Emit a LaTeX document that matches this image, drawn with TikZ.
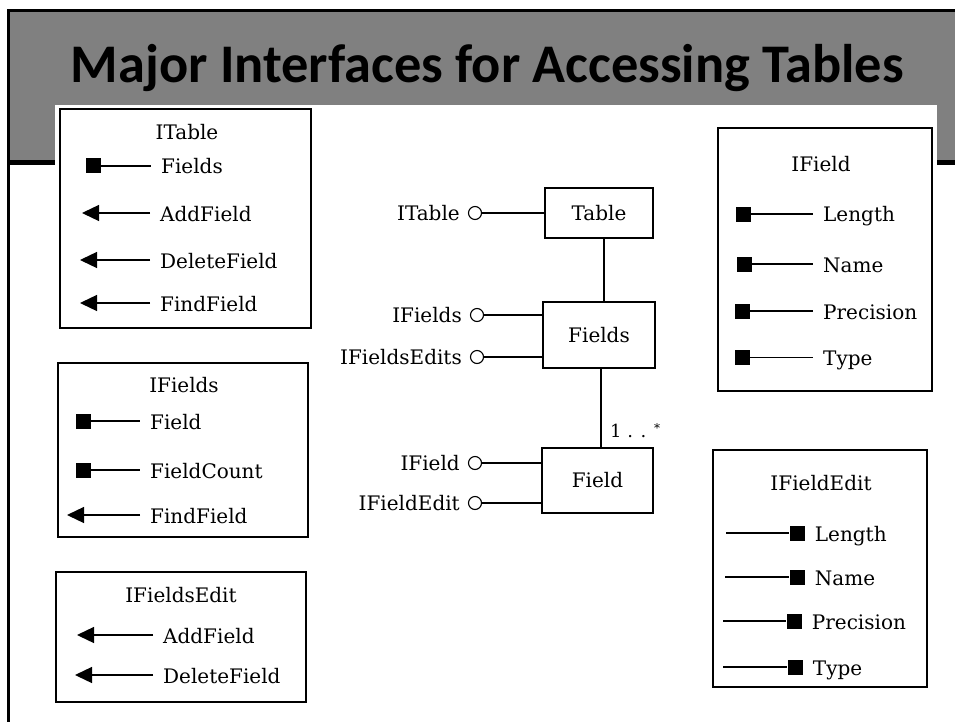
\documentclass[tikz,border=0pt]{standalone}
\usepackage{fontspec}
\newfontfamily\headfont{Carlito}
\newfontfamily\bookfont{DejaVu Serif}
\usetikzlibrary{arrows.meta,positioning}
\definecolor{bandgray}{RGB}{128,128,128}

\tikzset{
  panel/.style={draw, line width=1.3pt, inner sep=0pt},
  ptitle/.style={anchor=base, font=\bookfont\fontsize{20}{22}\selectfont, inner sep=0pt},
  memb/.style={anchor=west, font=\bookfont\fontsize{20}{22}\selectfont, inner xsep=10pt, inner ysep=0pt, text height=16pt, text depth=0pt},
  prop/.style={fill=black, minimum size=15pt, inner sep=0pt},
  meth/.style={-{Triangle[length=17pt,width=16pt]}, line width=1.3pt},
  wire/.style={line width=1.2pt},
  cls/.style={draw, line width=1.3pt, font=\bookfont\fontsize{20}{22}\selectfont},
  lolly/.style={draw, circle, line width=1.1pt, minimum size=13pt, inner sep=0pt},
  lbl/.style={font=\bookfont\fontsize{20}{22}\selectfont, inner xsep=8pt, inner ysep=0pt}
}

\begin{document}
\begin{tikzpicture}[x=1pt,y=-1pt]
  \useasboundingbox (0,0) rectangle (955,722);
  % slide frame and title band
  \fill[bandgray] (10,12) rectangle (955,160);
  \fill[black] (10,160) rectangle (955,165);
  \fill[white] (55,105) rectangle (937,722);
  \draw[line width=3pt] (8.5,722) -- (8.5,10.5) -- (955,10.5);
  \node[anchor=base, font=\headfont\bfseries\fontsize{54.4}{58}\selectfont] (head) at (487.5,83) {Major Interfaces for Accessing Tables};

  % ITable
  \node[panel, minimum width=251pt, minimum height=219pt] (itablebox) at (185.5,218.5) {};
  \node[ptitle] (itablettl) at (187,140) {ITable};
  \node[prop] (tfieldsq) at (93,166) {};
  \node[memb] (tfields) at (151,166) {Fields};
  \draw[wire] (tfieldsq) -- (tfields);
  \coordinate (taddtip) at (82,213);
  \node[memb] (tadd) at (150,213) {AddField};
  \draw[meth] (tadd) -- (taddtip);
  \coordinate (tdeltip) at (80,260);
  \node[memb] (tdel) at (150,260) {DeleteField};
  \draw[meth] (tdel) -- (tdeltip);
  \coordinate (tfindtip) at (80,303);
  \node[memb] (tfind) at (150,303) {FindField};
  \draw[meth] (tfind) -- (tfindtip);

  % IFields
  \node[panel, minimum width=250pt, minimum height=174pt] (ifieldsbox) at (183,450) {};
  \node[ptitle] (ifieldsttl) at (184,392) {IFields};
  \node[prop] (sfieldsq) at (83,421) {};
  \node[memb] (sfield) at (140,421) {Field};
  \draw[wire] (sfieldsq) -- (sfield);
  \node[prop] (scountsq) at (83,470) {};
  \node[memb] (scount) at (140,470) {FieldCount};
  \draw[wire] (scountsq) -- (scount);
  \coordinate (sfindtip) at (67,515);
  \node[memb] (sfind) at (140,515) {FindField};
  \draw[meth] (sfind) -- (sfindtip);

  % IFieldsEdit
  \node[panel, minimum width=250pt, minimum height=130pt] (ifieldseditbox) at (181,637) {};
  \node[ptitle] (ifieldseditttl) at (181,602) {IFieldsEdit};
  \coordinate (eaddtip) at (77,635);
  \node[memb] (eadd) at (153,635) {AddField};
  \draw[meth] (eadd) -- (eaddtip);
  \coordinate (edeltip) at (75,675);
  \node[memb] (edel) at (153,675) {DeleteField};
  \draw[meth] (edel) -- (edeltip);

  % classes
  \node[cls, minimum width=108pt, minimum height=50pt] (table) at (599,213) {Table};
  \node[cls, minimum width=112pt, minimum height=66pt] (fieldsc) at (599,335) {Fields};
  \node[cls, minimum width=111pt, minimum height=65pt] (fieldc) at (597.5,480.5) {Field};
  \draw[wire] ([xshift=5pt]table.south) -- ([xshift=5pt]table.south |- fieldsc.north);
  \draw[wire] ([xshift=2pt]fieldsc.south) -- ([xshift=2pt]fieldsc.south |- fieldc.north);
  \node[anchor=base west, font=\bookfont\fontsize{18}{20}\selectfont, inner sep=0pt] (mult) at (610,437) {1 . . \raisebox{5pt}{\fontsize{12}{12}\selectfont *}};

  \node[lolly] (itablec) at (475,213) {};
  \node[lbl, left=0pt of itablec] (itablel) {ITable};
  \draw[wire] (itablec) -- (table);
  \node[lolly] (ifieldsc) at (477,315) {};
  \node[lbl, left=0pt of ifieldsc] (ifieldsl) {IFields};
  \draw[wire] (ifieldsc) -- (ifieldsc -| fieldsc.west);
  \node[lolly] (ifieldseditsc) at (477,357) {};
  \node[lbl, left=0pt of ifieldseditsc] (ifieldseditsl) {IFieldsEdits};
  \draw[wire] (ifieldseditsc) -- (ifieldseditsc -| fieldsc.west);
  \node[lolly] (ifieldc) at (475,463) {};
  \node[lbl, left=0pt of ifieldc] (ifieldl) {IField};
  \draw[wire] (ifieldc) -- (ifieldc -| fieldc.west);
  \node[lolly] (ifieldeditc) at (475,503) {};
  \node[lbl, left=0pt of ifieldeditc] (ifieldeditl) {IFieldEdit};
  \draw[wire] (ifieldeditc) -- (ifieldeditc -| fieldc.west);

  % IField
  \node[panel, minimum width=214pt, minimum height=263pt] (ifieldbox) at (825,259.5) {};
  \node[ptitle] (ifieldttl) at (821,172) {IField};
  \node[prop] (flensq) at (743,214) {};
  \node[memb] (flen) at (813,214) {Length};
  \draw[wire] (flensq) -- (flen);
  \node[prop] (fnamesq) at (744,264) {};
  \node[memb] (fname) at (813,264) {Name};
  \draw[wire] (fnamesq) -- (fname);
  \node[prop] (fprecsq) at (742,311) {};
  \node[memb] (fprec) at (813,311) {Precision};
  \draw[wire] (fprecsq) -- (fprec);
  \node[prop] (ftypesq) at (742,357.5) {};
  \node[memb] (ftype) at (813,357.5) {Type};
  \draw[wire] (ftypesq) -- (ftype);

  % IFieldEdit
  \node[panel, minimum width=214pt, minimum height=237pt] (ifieldeditbox) at (820,568.5) {};
  \node[ptitle] (ifieldeditttl) at (821,490) {IFieldEdit};
  \coordinate (dlenst) at (726,533);
  \node[prop] (dlensq) at (797,533) {};
  \node[memb, right=0pt of dlensq] (dlen) {Length};
  \draw[wire] (dlenst) -- (dlensq);
  \coordinate (dnamest) at (725,577);
  \node[prop] (dnamesq) at (797,577) {};
  \node[memb, right=0pt of dnamesq] (dname) {Name};
  \draw[wire] (dnamest) -- (dnamesq);
  \coordinate (dprecst) at (723,621);
  \node[prop] (dprecsq) at (794,621) {};
  \node[memb, right=0pt of dprecsq] (dprec) {Precision};
  \draw[wire] (dprecst) -- (dprecsq);
  \coordinate (dtypest) at (723,667);
  \node[prop] (dtypesq) at (795,667) {};
  \node[memb, right=0pt of dtypesq] (dtype) {Type};
  \draw[wire] (dtypest) -- (dtypesq);
\end{tikzpicture}
\end{document}
